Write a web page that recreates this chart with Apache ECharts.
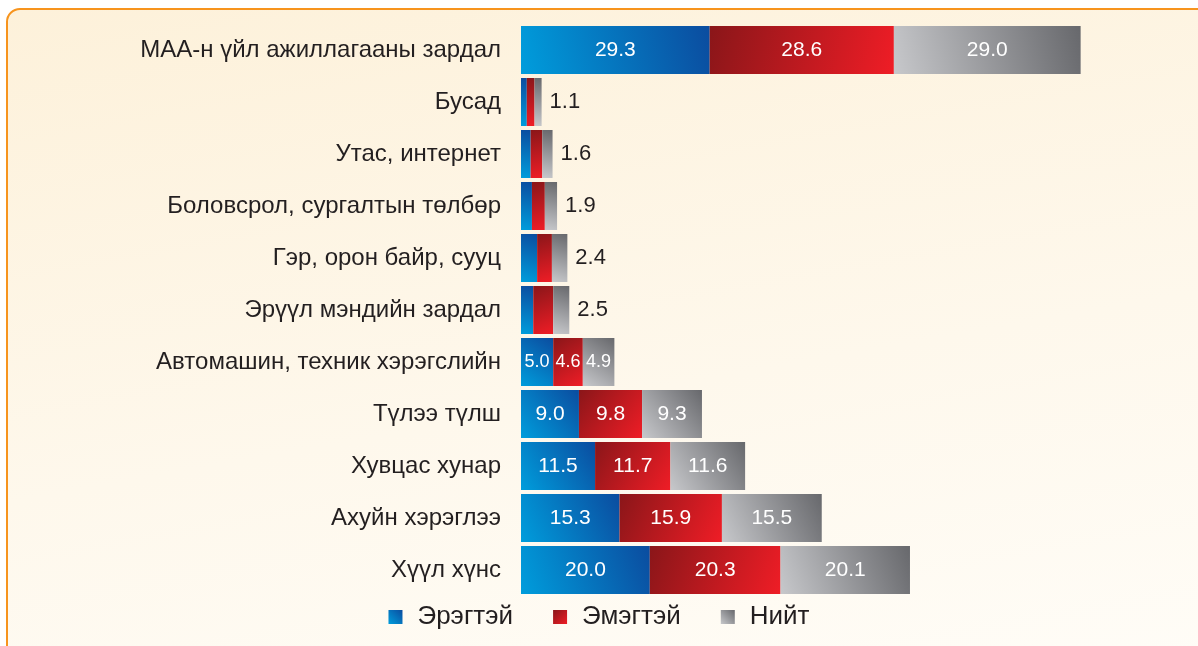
<!DOCTYPE html>
<html>
<head>
<meta charset="utf-8">
<script src="https://cdn.jsdelivr.net/npm/echarts@6/dist/echarts.min.js"></script>
<style>
  html, body {margin: 0; padding: 0; width: 1198px; height: 646px; overflow: hidden; background: #ffffff;}
  #frame {
    position: absolute; left: 6px; top: 8px; width: 1230px; height: 680px;
    border: 2px solid #f7941d; border-radius: 14px;
    background: linear-gradient(170deg, #fdf1da 0%, #fef8ec 55%, #fffdf8 100%);
  }
  #chart {position: absolute; left: 0; top: 0; width: 1198px; height: 646px;}
</style>
</head>
<body>
<div id="frame"></div>
<div id="chart"></div>
<script>
var categories = [
    'МАА-н үйл ажиллагааны зардал',
    'Бусад',
    'Утас, интернет',
    'Боловсрол, сургалтын төлбөр',
    'Гэр, орон байр, сууц',
    'Эрүүл мэндийн зардал',
    'Автомашин, техник хэрэгслийн',
    'Түлээ түлш',
    'Хувцас хунар',
    'Ахуйн хэрэглээ',
    'Хүүл хүнс'
];
var male = [29.3, 0.9, 1.5, 1.7, 2.5, 1.9, 5.0, 9.0, 11.5, 15.3, 20.0];
var female = [28.6, 1.2, 1.8, 2.0, 2.3, 3.1, 4.6, 9.8, 11.7, 15.9, 20.3];
var total = [29.0, 1.1, 1.6, 1.9, 2.4, 2.5, 4.9, 9.3, 11.6, 15.5, 20.1];
// rows too narrow for inside labels: only the total is written, outside the bar
var small_rows = [1, 2, 3, 4, 5];
var narrow_row = 6;

var font = 'Liberation Sans, Arial, sans-serif';

function grad(x, y, x2, y2, c1, c2) {
    return new echarts.graphic.LinearGradient(x, y, x2, y2, [{offset: 0, color: c1}, {offset: 1, color: c2}]);
}

function make_data(values, is_total) {
    return values.map(function (v, i) {
        if (i === narrow_row) return {value: v, label: {fontSize: 18}};
        if (small_rows.indexOf(i) < 0) return v;
        if (!is_total) return {value: v, label: {show: false}};
        return {value: v, label: {position: 'right', distance: 8, color: '#231f20', fontSize: 22, formatter: function () {return total[i].toFixed(1);}}};
    });
}

var inside_label = {
    show: true, position: 'inside', color: '#ffffff', fontSize: 21, fontFamily: font,
    formatter: function (p) {return p.value.toFixed(1);}
};

function series_item(name, values, color, is_total) {
    return {
        name: name, type: 'bar', stack: 'all', barWidth: 48,
        data: make_data(values, is_total),
        itemStyle: {color: color},
        label: Object.assign({}, inside_label),
        emphasis: {disabled: true}
    };
}

var chart = echarts.init(document.getElementById('chart'));
chart.setOption({
    animation: false,
    backgroundColor: 'transparent',
    textStyle: {fontFamily: font},
    grid: {left: 521, right: 33, top: 24, bottom: 50},
    legend: {
        bottom: 11, left: 'center', itemWidth: 14, itemHeight: 14, itemGap: 40,
        icon: 'rect',
        textStyle: {fontSize: 26, color: '#231f20', fontFamily: font, padding: [0, 0, 0, 10]}
    },
    xAxis: {type: 'value', min: 0, max: 100, show: false},
    yAxis: {
        type: 'category', data: categories, inverse: true,
        axisLine: {show: false}, axisTick: {show: false},
        axisLabel: {fontSize: 24, color: '#231f20', margin: 20, fontFamily: font}
    },
    series: [
        series_item('Эрэгтэй', male, grad(0, 1, 1, 0, '#009ddc', '#0b4c9f'), false),
        series_item('Эмэгтэй', female, grad(0, 0, 1, 1, '#8a1619', '#ef1d26'), false),
        series_item('Нийт', total, grad(0, 1, 1, 0, '#c7c8cb', '#67686c'), true)
    ]
});
</script>
</body>
</html>
